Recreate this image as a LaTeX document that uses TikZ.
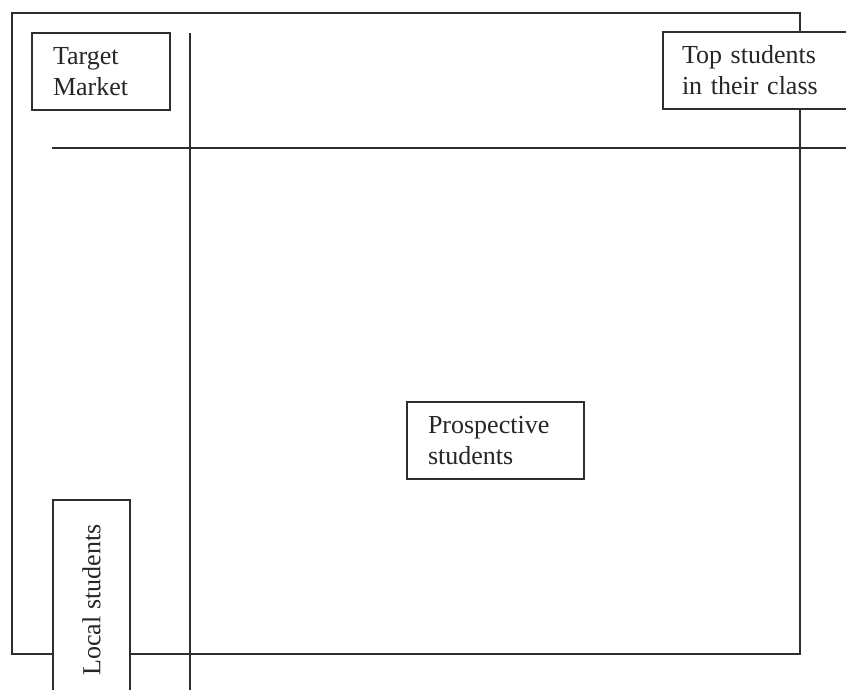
\documentclass[tikz,border=0pt]{standalone}
\usepackage{fontspec}
\setmainfont{Liberation Serif}
\begin{document}
\begin{tikzpicture}[x=1pt,y=-1pt,
  rule/.style={draw=black!82, line width=1.3pt},
  box/.style={draw=black!82, line width=1.3pt, fill=white, inner sep=0pt, align=left,
    font=\fontsize{26}{31}\selectfont, text=black!85},
  frame/.style={draw=black!82, line width=1.3pt, inner sep=0pt}]
\useasboundingbox (0,0) rectangle (846,690);
\clip (0,0) rectangle (846,690);
% outer frame
\node[frame, minimum width=788pt, minimum height=641pt] (outer) at (406,333.5) {};
% axis lines
\coordinate (vtop) at (190,33);
\coordinate (vbot) at (190,692);
\coordinate (hleft) at (52,148);
\coordinate (hright) at (850,148);
\draw[rule] (hleft) -- (hright);
% boxes
\node[box, minimum width=138pt, minimum height=77pt, text width=96pt] (target) at (101,71.5) {Target\\Market};
\node[box, minimum width=203pt, minimum height=77pt, text width=165pt] (top) at (764.5,70.5) {Top students\\in their class};
\node[box, minimum width=177pt, minimum height=77pt, text width=135pt] (prosp) at (495.5,440.5) {Prospective\\students};
\node[box, rotate=90, minimum width=200pt, minimum height=77pt, align=center] (local) at (91.5,600) {Local students};
\draw[rule] (vtop) -- (vbot);
\end{tikzpicture}
\end{document}
